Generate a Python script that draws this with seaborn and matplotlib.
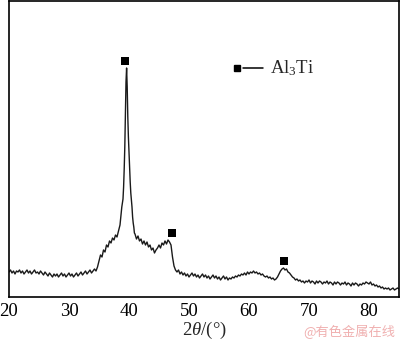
import numpy as np
import pandas as pd
import matplotlib
matplotlib.use("Agg")
import matplotlib.pyplot as plt
import seaborn as sns

# --- data (intensity in arbitrary units) ---
# 20.00 .. 38.25 deg, step 0.25
intensity_a = [25, 27, 24, 26, 23, 26, 25, 27,
               24, 26, 23, 25, 27, 24, 26, 23,
               25, 27, 24, 25, 23, 26, 24, 22,
               25, 23, 21, 24, 22, 20, 23, 21,
               23, 20, 22, 24, 21, 23, 20, 22,
               24, 21, 23, 20, 22, 24, 21, 23,
               25, 22, 24, 26, 23, 25, 27, 24,
               26, 28, 26, 30, 36, 42, 40, 47,
               45, 52, 50, 56, 54, 59, 57, 62,
               60, 66]
# 38.5 .. 40.9 deg, step 0.1 (main Al3Ti peak)
intensity_peak = [72, 78, 85, 90, 94, 98, 110, 128, 150, 185,
                  215, 229, 210, 180, 160, 145, 128, 115, 104, 97,
                  90, 80, 74, 70, 64]
# 41.00 .. 85.00 deg, step 0.25
intensity_b = [63, 58, 61, 56, 58, 53, 56, 52,
               55, 50, 52, 47, 49, 44, 47, 49,
               52, 49, 54, 52, 56, 53, 57, 55,
               52, 40, 31, 27, 25, 27, 23, 25,
               22, 24, 21, 23, 20, 22, 24, 21,
               23, 20, 22, 19, 21, 23, 20, 22,
               19, 21, 18, 20, 22, 19, 21, 18,
               20, 17, 19, 21, 18, 20, 17, 19,
               18, 20, 19, 21, 20, 22, 21, 23,
               22, 24, 22, 25, 23, 25, 24, 26,
               24, 25, 23, 24, 22, 23, 21, 20,
               21, 19, 20, 18, 19, 17, 18, 20,
               23, 26, 28, 29, 27, 28, 25, 24,
               22, 20, 19, 17, 18, 16, 17, 15,
               16, 14, 16, 15, 17, 14, 16, 15,
               13, 16, 14, 16, 15, 13, 15, 14,
               16, 13, 15, 14, 12, 15, 13, 15,
               14, 12, 14, 13, 15, 12, 14, 13,
               11, 14, 12, 14, 13, 11, 13, 12,
               14, 13, 15, 14, 13, 15, 12, 13,
               11, 12, 10, 11, 9, 10, 8, 9,
               8, 9, 7, 8, 9, 7, 8, 9,
               8]

theta_a = np.arange(len(intensity_a)) * 0.25 + 20.0
theta_peak = np.arange(len(intensity_peak)) * 0.1 + 38.5
theta_b = np.arange(len(intensity_b)) * 0.25 + 41.0

two_theta = np.concatenate([theta_a, theta_peak, theta_b])
intensity = np.concatenate([intensity_a, intensity_peak, intensity_b])

# Al3Ti peak markers
marker_theta = [39.33, 47.2, 65.8]
marker_int = [236, 64, 36]

x_ticks = [20, 30, 40, 50, 60, 70, 80]
legend_label = "Al$_3$Ti"
x_label = "2$\\theta$/(°)"
watermark = "@有色金属在线"

# --- style ---
sns.set_style("white")
plt.rcParams["font.family"] = ["Liberation Serif", "DejaVu Serif"]
plt.rcParams["mathtext.fontset"] = "custom"
plt.rcParams["mathtext.rm"] = "Liberation Serif"
plt.rcParams["mathtext.it"] = "Liberation Serif:italic"

fig = plt.figure(figsize=(4.0, 3.42), dpi=100)
ax = fig.add_axes([9 / 400, 45 / 342, 390 / 400, 296 / 342])

df = pd.DataFrame({"two_theta": two_theta, "intensity": intensity})
sns.lineplot(data=df, x="two_theta", y="intensity", ax=ax,
             color="#1a1a1a", linewidth=1.0, sort=False)

ax.scatter(marker_theta, marker_int, marker="s", s=28, color="black",
           zorder=5, linewidths=0)

ax.set_xlim(20, 85)
ax.set_ylim(0, 296)
ax.set_xticks(x_ticks)
ax.set_xticklabels([str(t) for t in x_ticks], fontsize=13.5)
ax.set_yticks([])
ax.tick_params(axis="x", direction="in", length=4, width=1, pad=4,
               colors="black", labelcolor="black")
ax.set_xlabel(x_label, fontsize=13.5, labelpad=0)
ax.set_ylabel("")
for s in ax.spines.values():
    s.set_visible(True)
    s.set_color("black")
    s.set_linewidth(1.2)

# legend (marker, dash, label) drawn manually to match the reference layout
ax.plot([0.585], [0.774], marker="s", markersize=5, color="black",
        transform=ax.transAxes, linestyle="none")
ax.plot([0.600, 0.650], [0.774, 0.774], color="black", linewidth=1.1,
        transform=ax.transAxes)
ax.text(0.668, 0.774, legend_label, transform=ax.transAxes, fontsize=13.5,
        va="center", ha="left")

fig.text(0.988, 0.008, watermark, color="#f0b0b0", fontsize=9.5,
         ha="right", va="bottom",
         family=["Noto Sans CJK SC", "DejaVu Sans"])

fig.savefig("out.png", dpi=100)
